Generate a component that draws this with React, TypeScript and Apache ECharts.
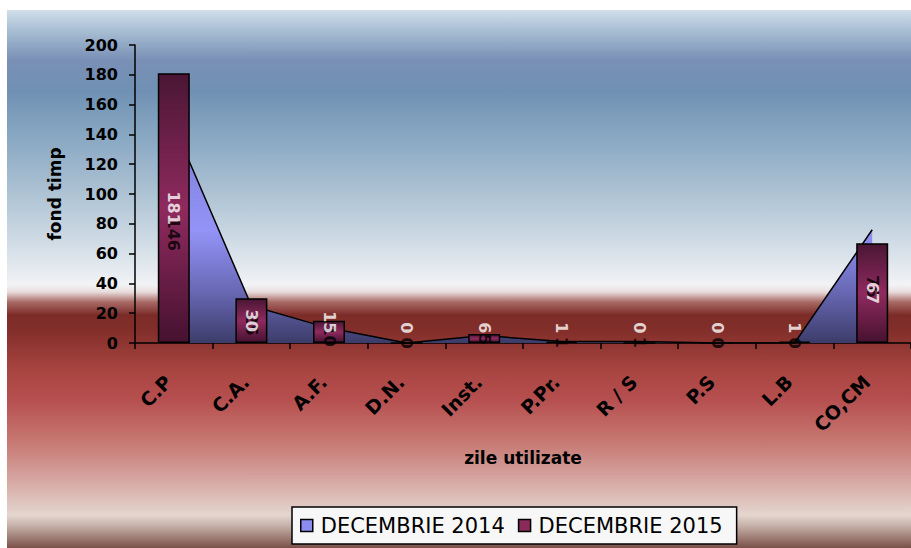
import React, { useEffect, useRef } from "react";
import * as echarts from "echarts";

const categories = ["C.P", "C.A.", "A.F.", "D.N.", "Inst.", "P.Pr.", "R / S", "P.S", "L.B", "CO,CM"];
const dec2014 = [146, 25, 10, 0, 5, 1, 1, 0, 0, 76];
const dec2015 = [181, 30, 15, 0, 6, 1, 0, 0, 1, 67];
const seriesNames = ["DECEMBRIE 2014", "DECEMBRIE 2015"];
const yMin = 0;
const yMax = 200;
const yInterval = 20;
const xTitle = "zile utilizate";
const yTitle = "fond timp";

// label anchors (2014 labels centred in the area, 2015 labels centred in the bar)
const label2014Anchor = dec2014.map((v) => v / 2);
const label2015Anchor = dec2015.map((v) => (v >= 20 ? v / 2 : 0));

const FONT = "'DejaVu Sans', sans-serif";

export default function App() {
  const ref = useRef<HTMLDivElement>(null);
  useEffect(() => {
    if (!ref.current) return;
    const chart = echarts.init(ref.current, null, { renderer: "svg" });
    const whiteData = label2015Anchor.map((a, i) => ({
      value: a,
      label:
        dec2015[i] >= 20
          ? { position: "inside", align: "center", verticalAlign: "middle" }
          : { position: "top", distance: 9, align: "right", verticalAlign: "middle" },
    }));
    chart.setOption({
      animation: false,
      backgroundColor: "transparent",
      grid: { left: 135, top: 45, width: 782, height: 298, containLabel: false },
      legend: {
        left: 292,
        top: 507,
        orient: "horizontal",
        padding: [8, 14, 8, 8],
        itemGap: 13,
        itemWidth: 12,
        itemHeight: 12,
        backgroundColor: "#f7f7f7",
        borderColor: "#000",
        borderWidth: 1.5,
        borderRadius: 0,
        textStyle: { fontFamily: FONT, fontSize: 21, color: "#000", padding: [0, 0, 0, 3] },
        data: [
          { name: seriesNames[0], icon: "rect", itemStyle: { color: "#8c8cf0", borderColor: "#000", borderWidth: 1.5 } },
          { name: seriesNames[1], icon: "rect", itemStyle: { color: "#8a2a5a", borderColor: "#000", borderWidth: 1.5 } },
        ],
      },
      xAxis: {
        type: "category",
        data: categories,
        boundaryGap: true,
        name: xTitle,
        nameLocation: "middle",
        nameGap: 106,
        nameTextStyle: { fontFamily: FONT, fontWeight: "bold", fontSize: 17, color: "#000" },
        axisLine: { lineStyle: { color: "#000", width: 1.5 } },
        axisTick: { show: true, alignWithLabel: false, length: 6, lineStyle: { color: "#000", width: 1.5 } },
        axisLabel: {
          interval: 0,
          rotate: 45,
          margin: 30,
          padding: [0, 8, 0, 0],
          fontFamily: FONT,
          fontWeight: "bold",
          fontSize: 19,
          color: "#000",
        },
        splitLine: { show: false },
      },
      yAxis: {
        type: "value",
        min: yMin,
        max: yMax,
        interval: yInterval,
        name: yTitle,
        nameLocation: "middle",
        nameRotate: 90,
        nameGap: 72,
        nameTextStyle: { fontFamily: FONT, fontWeight: "bold", fontSize: 17, color: "#000" },
        axisLine: { show: true, lineStyle: { color: "#000", width: 1.5 } },
        axisTick: { show: true, length: 6, lineStyle: { color: "#000", width: 1.5 } },
        axisLabel: { margin: 17, fontFamily: FONT, fontWeight: "bold", fontSize: 16, color: "#000" },
        splitLine: { show: false },
      },
      series: [
        {
          name: seriesNames[0],
          type: "line",
          data: dec2014,
          z: 2,
          showSymbol: false,
          symbol: "none",
          lineStyle: { color: "#000", width: 1.5 },
          itemStyle: { color: "#8c8cf0" },
          areaStyle: {
            opacity: 1,
            color: new echarts.graphic.LinearGradient(0, 0, 0, 1, [
              { offset: 0, color: "#7a7ad2" },
              { offset: 0.48, color: "#9494f8" },
              { offset: 0.75, color: "#6a6ab8" },
              { offset: 1, color: "#3c3c6a" },
            ]),
          },
        },
        {
          name: seriesNames[1],
          type: "bar",
          data: dec2015,
          z: 3,
          barWidth: 32,
          itemStyle: {
            borderColor: "#000",
            borderWidth: 1.5,
            color: new echarts.graphic.LinearGradient(0, 0, 0, 1, [
              { offset: 0, color: "#4a1634" },
              { offset: 0.5, color: "#8f2a5e" },
              { offset: 1, color: "#461230" },
            ]),
          },
        },
        {
          type: "scatter",
          data: label2014Anchor,
          z: 4,
          silent: true,
          symbolSize: 1,
          itemStyle: { color: "rgba(0,0,0,0)" },
          label: {
            show: true,
            position: "inside",
            rotate: -90,
            formatter: (p: any) => String(dec2014[p.dataIndex]),
            fontFamily: FONT,
            fontWeight: "bold",
            fontSize: 16,
            color: "#000",
          },
        },
        {
          type: "scatter",
          data: whiteData,
          z: 5,
          silent: true,
          symbolSize: 1,
          itemStyle: { color: "rgba(0,0,0,0)" },
          label: {
            show: true,
            rotate: -90,
            formatter: (p: any) => String(dec2015[p.dataIndex]),
            fontFamily: FONT,
            fontWeight: "bold",
            fontSize: 16,
            color: "#fff",
          },
        },
      ],
    });
    return () => chart.dispose();
  }, []);

  const bg =
    "linear-gradient(to bottom," +
    "#d2dfea 0px,#a8bfd4 20px,#7a90b6 50px,#7090b4 80px,#84a4c0 120px,#b2c6d6 190px," +
    "#dde5ec 250px,#f2f3f5 275px,#e8dcdc 282px,#a86a66 292px,#7c2c28 305px,#822e2a 320px," +
    "#a84440 360px,#b65050 390px,#c67670 430px,#d6a6a2 470px,#e4d6cf 505px,#c8b4ac 515px,#7a5048 538px)";

  return (
    <div style={{ position: "absolute", left: 0, top: 0, width: 911, height: 548, background: "#fff" }}>
      <div style={{ position: "absolute", left: 7, top: 10, width: 904, height: 538, background: bg }} />
      <div ref={ref} style={{ position: "absolute", left: 0, top: 0, width: 911, height: 548 }} />
    </div>
  );
}
